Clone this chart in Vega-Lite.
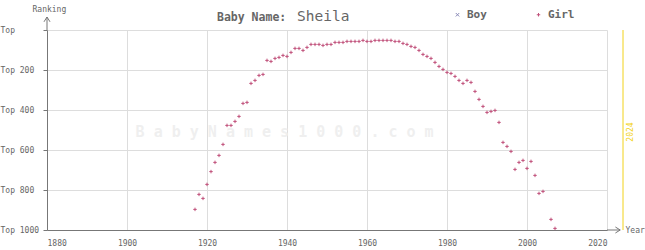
{
  "$schema": "https://vega.github.io/schema/vega-lite/v6.json",
  "width": 560,
  "height": 200,
  "autosize": {"type": "none"},
  "padding": {"left": 47, "top": 30, "right": 38, "bottom": 20},
  "background": "white",
  "config": {
    "view": {"stroke": null},
    "font": "DejaVu Sans Mono",
    "axisY": {"labelOverlap": false, "labelBound": false, "labelAlign": "left", "labelBaseline": "middle", "tickSize": 4, "labelPadding": 43, "labelFontSize": 8, "labelColor": "#666666", "labelFont": "DejaVu Sans Mono", "tickColor": "#777777", "domainColor": "#777777", "grid": true, "gridColor": "#dddddd"},
    "axisX": {"labelOverlap": false, "labelBound": false, "ticks": false, "labelPadding": 9, "labelFontSize": 8, "labelColor": "#666666", "labelFont": "DejaVu Sans Mono", "domainColor": "#777777", "grid": true, "gridColor": "#dddddd"}
  },
  "datasets": {
    "names": [
      {"sex": "Girl", "year": 1917, "rank": 897},
      {"sex": "Girl", "year": 1918, "rank": 822},
      {"sex": "Girl", "year": 1919, "rank": 842},
      {"sex": "Girl", "year": 1920, "rank": 772},
      {"sex": "Girl", "year": 1921, "rank": 708},
      {"sex": "Girl", "year": 1922, "rank": 662},
      {"sex": "Girl", "year": 1923, "rank": 627},
      {"sex": "Girl", "year": 1924, "rank": 572},
      {"sex": "Girl", "year": 1925, "rank": 477},
      {"sex": "Girl", "year": 1926, "rank": 477},
      {"sex": "Girl", "year": 1927, "rank": 457},
      {"sex": "Girl", "year": 1928, "rank": 432},
      {"sex": "Girl", "year": 1929, "rank": 367},
      {"sex": "Girl", "year": 1930, "rank": 362},
      {"sex": "Girl", "year": 1931, "rank": 267},
      {"sex": "Girl", "year": 1932, "rank": 252},
      {"sex": "Girl", "year": 1933, "rank": 227},
      {"sex": "Girl", "year": 1934, "rank": 222},
      {"sex": "Girl", "year": 1935, "rank": 152},
      {"sex": "Girl", "year": 1936, "rank": 157},
      {"sex": "Girl", "year": 1937, "rank": 142},
      {"sex": "Girl", "year": 1938, "rank": 137},
      {"sex": "Girl", "year": 1939, "rank": 127},
      {"sex": "Girl", "year": 1940, "rank": 132},
      {"sex": "Girl", "year": 1941, "rank": 112},
      {"sex": "Girl", "year": 1942, "rank": 92},
      {"sex": "Girl", "year": 1943, "rank": 92},
      {"sex": "Girl", "year": 1944, "rank": 102},
      {"sex": "Girl", "year": 1945, "rank": 87},
      {"sex": "Girl", "year": 1946, "rank": 72},
      {"sex": "Girl", "year": 1947, "rank": 72},
      {"sex": "Girl", "year": 1948, "rank": 72},
      {"sex": "Girl", "year": 1949, "rank": 77},
      {"sex": "Girl", "year": 1950, "rank": 72},
      {"sex": "Girl", "year": 1951, "rank": 72},
      {"sex": "Girl", "year": 1952, "rank": 62},
      {"sex": "Girl", "year": 1953, "rank": 62},
      {"sex": "Girl", "year": 1954, "rank": 62},
      {"sex": "Girl", "year": 1955, "rank": 57},
      {"sex": "Girl", "year": 1956, "rank": 57},
      {"sex": "Girl", "year": 1957, "rank": 57},
      {"sex": "Girl", "year": 1958, "rank": 57},
      {"sex": "Girl", "year": 1959, "rank": 52},
      {"sex": "Girl", "year": 1960, "rank": 57},
      {"sex": "Girl", "year": 1961, "rank": 57},
      {"sex": "Girl", "year": 1962, "rank": 52},
      {"sex": "Girl", "year": 1963, "rank": 52},
      {"sex": "Girl", "year": 1964, "rank": 52},
      {"sex": "Girl", "year": 1965, "rank": 52},
      {"sex": "Girl", "year": 1966, "rank": 52},
      {"sex": "Girl", "year": 1967, "rank": 57},
      {"sex": "Girl", "year": 1968, "rank": 57},
      {"sex": "Girl", "year": 1969, "rank": 67},
      {"sex": "Girl", "year": 1970, "rank": 72},
      {"sex": "Girl", "year": 1971, "rank": 82},
      {"sex": "Girl", "year": 1972, "rank": 87},
      {"sex": "Girl", "year": 1973, "rank": 102},
      {"sex": "Girl", "year": 1974, "rank": 122},
      {"sex": "Girl", "year": 1975, "rank": 132},
      {"sex": "Girl", "year": 1976, "rank": 142},
      {"sex": "Girl", "year": 1977, "rank": 162},
      {"sex": "Girl", "year": 1978, "rank": 182},
      {"sex": "Girl", "year": 1979, "rank": 197},
      {"sex": "Girl", "year": 1980, "rank": 212},
      {"sex": "Girl", "year": 1981, "rank": 217},
      {"sex": "Girl", "year": 1982, "rank": 232},
      {"sex": "Girl", "year": 1983, "rank": 252},
      {"sex": "Girl", "year": 1984, "rank": 267},
      {"sex": "Girl", "year": 1985, "rank": 252},
      {"sex": "Girl", "year": 1986, "rank": 262},
      {"sex": "Girl", "year": 1987, "rank": 307},
      {"sex": "Girl", "year": 1988, "rank": 347},
      {"sex": "Girl", "year": 1989, "rank": 382},
      {"sex": "Girl", "year": 1990, "rank": 412},
      {"sex": "Girl", "year": 1991, "rank": 407},
      {"sex": "Girl", "year": 1992, "rank": 402},
      {"sex": "Girl", "year": 1993, "rank": 462},
      {"sex": "Girl", "year": 1994, "rank": 562},
      {"sex": "Girl", "year": 1995, "rank": 582},
      {"sex": "Girl", "year": 1996, "rank": 607},
      {"sex": "Girl", "year": 1997, "rank": 697},
      {"sex": "Girl", "year": 1998, "rank": 662},
      {"sex": "Girl", "year": 1999, "rank": 652},
      {"sex": "Girl", "year": 2000, "rank": 692},
      {"sex": "Girl", "year": 2001, "rank": 657},
      {"sex": "Girl", "year": 2002, "rank": 727},
      {"sex": "Girl", "year": 2003, "rank": 817},
      {"sex": "Girl", "year": 2004, "rank": 807},
      {"sex": "Girl", "year": 2006, "rank": 947},
      {"sex": "Girl", "year": 2007, "rank": 992}
    ],
    "one": [{}]
  },
  "layer": [
    {
      "data": {"name": "names"},
      "mark": {"type": "point", "filled": false, "size": 12, "strokeWidth": 1, "opacity": 1},
      "encoding": {
        "x": {"field": "year", "type": "quantitative",
          "scale": {"domain": [1880, 2020], "nice": false, "zero": false},
          "axis": {"values": [1880, 1900, 1920, 1940, 1960, 1980, 2000, 2020], "tickCount": 8, "format": "d", "labelOverlap": false, "title": "Year", "titleX": 578, "titleY": 0, "titleAlign": "left", "titleBaseline": "middle", "titleFontSize": 8, "titleFontWeight": "normal", "titleColor": "#666666", "titleFont": "DejaVu Sans Mono"}
        },
        "y": {"field": "rank", "type": "quantitative",
          "scale": {"domain": [0, 1000], "reverse": true, "nice": false, "zero": false},
          "axis": {"values": [0, 200, 400, 600, 800, 1000], "tickCount": 6, "labelOverlap": false, "labelExpr": "datum.value == 0 ? 'Top' : 'Top ' + datum.value", "title": "Ranking", "titleAngle": 0, "titleX": -15, "titleY": -21, "titleAlign": "left", "titleBaseline": "middle", "titleFontSize": 8, "titleFontWeight": "normal", "titleColor": "#666666", "titleFont": "DejaVu Sans Mono"}
        },
        "color": {"field": "sex", "type": "nominal",
          "scale": {"domain": ["Boy", "Girl"], "range": ["#8a8ab8", "#c0507a"]},
          "legend": {"orient": "none", "legendX": 405, "legendY": -21, "direction": "horizontal", "title": null, "symbolSize": 12, "symbolStrokeWidth": 1, "labelFont": "DejaVu Sans Mono", "labelFontSize": 11, "labelFontWeight": "bold", "labelColor": "#666666", "labelOffset": 4, "columnPadding": 46}
        },
        "shape": {"field": "sex", "type": "nominal",
          "scale": {"domain": ["Boy", "Girl"], "range": ["M-1,-1L1,1M-1,1L1,-1", "M-1,0L1,0M0,-1L0,1"]},
          "legend": {"orient": "none", "legendX": 405, "legendY": -21, "direction": "horizontal", "title": null, "symbolSize": 12, "symbolStrokeWidth": 1, "labelFont": "DejaVu Sans Mono", "labelFontSize": 11, "labelFontWeight": "bold", "labelColor": "#666666", "labelOffset": 4, "columnPadding": 46}
        }
      }
    },
    {
      "data": {"name": "one"},
      "mark": {"type": "text", "font": "DejaVu Sans Mono", "fontSize": 15, "fontWeight": "bold", "color": "#efefef", "align": "center", "baseline": "middle"},
      "encoding": {
        "x": {"datum": 1939.4, "type": "quantitative"},
        "y": {"datum": 510, "type": "quantitative"},
        "text": {"value": "B a b y N a m e s 1 0 0 0 . c o m"}
      }
    },
    {
      "data": {"name": "one"},
      "mark": {"type": "rule", "color": "#777777", "strokeWidth": 1},
      "encoding": {"x": {"datum": 2020, "type": "quantitative"}, "x2": {"datum": 2023.3}, "y": {"datum": 1000, "type": "quantitative"}}
    },
    {
      "data": {"name": "one"},
      "mark": {"type": "point", "shape": "M-1.6,-1L0,0L-1.6,1", "filled": false, "size": 36, "strokeWidth": 1, "color": "#777777", "opacity": 1},
      "encoding": {"x": {"datum": 2023.3, "type": "quantitative"}, "y": {"datum": 1000, "type": "quantitative"}}
    },
    {
      "data": {"name": "one"},
      "mark": {"type": "rule", "color": "#777777", "strokeWidth": 1},
      "encoding": {"x": {"datum": 1880, "type": "quantitative"}, "y": {"datum": 0, "type": "quantitative"}, "y2": {"datum": -65}}
    },
    {
      "data": {"name": "one"},
      "mark": {"type": "point", "shape": "M-1,1.6L0,0L1,1.6", "filled": false, "size": 36, "strokeWidth": 1, "color": "#777777", "opacity": 1},
      "encoding": {"x": {"datum": 1880, "type": "quantitative"}, "y": {"datum": -65, "type": "quantitative"}}
    },
    {
      "data": {"name": "one"},
      "mark": {"type": "rule", "color": "#f2d21b", "strokeWidth": 1},
      "encoding": {"x": {"datum": 2024, "type": "quantitative"}, "y": {"datum": 0, "type": "quantitative"}, "y2": {"datum": 1000}}
    },
    {
      "data": {"name": "one"},
      "mark": {"type": "text", "angle": 270, "color": "#f2d21b", "fontSize": 8, "font": "DejaVu Sans Mono", "align": "center", "baseline": "middle", "dy": 8},
      "encoding": {"x": {"datum": 2024, "type": "quantitative"}, "y": {"datum": 510, "type": "quantitative"}, "text": {"value": "2024"}}
    },
    {
      "data": {"name": "one"},
      "mark": {"type": "text", "color": "#666666", "fontSize": 11.5, "fontWeight": "bold", "font": "DejaVu Sans Mono", "align": "left", "baseline": "alphabetic"},
      "encoding": {"x": {"datum": 1922.5, "type": "quantitative"}, "y": {"datum": -45, "type": "quantitative"}, "text": {"value": "Baby Name:"}}
    },
    {
      "data": {"name": "one"},
      "mark": {"type": "text", "color": "#666666", "fontSize": 14.5, "font": "DejaVu Sans Mono", "align": "left", "baseline": "alphabetic"},
      "encoding": {"x": {"datum": 1942.5, "type": "quantitative"}, "y": {"datum": -45, "type": "quantitative"}, "text": {"value": "Sheila"}}
    }
  ]
}
